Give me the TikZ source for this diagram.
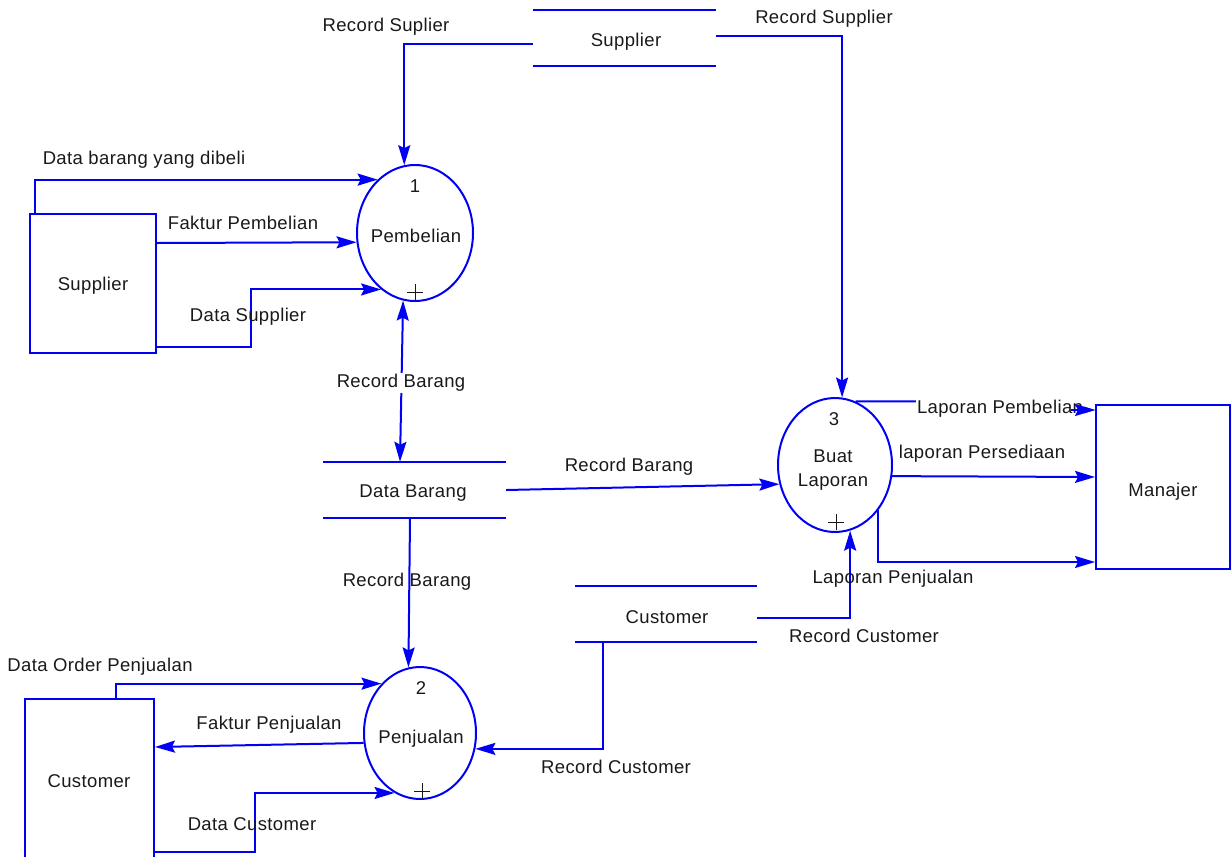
\documentclass[tikz,border=0pt]{standalone}
\usepackage{fontspec}
\setmainfont{Liberation Sans}[LetterSpace=2]
\usetikzlibrary{arrows.meta,shapes.geometric}
\definecolor{dfdblue}{RGB}{0,0,245}
\definecolor{dfdtext}{RGB}{25,25,25}
\begin{document}
\begin{tikzpicture}[x=1pt,y=-1pt,
  >={Stealth[length=20pt,width=12pt,inset=3pt]},
  every node/.style={font=\fontsize{18.5}{22}\selectfont, text=dfdtext, inner sep=1pt},
  flow/.style={draw=dfdblue, line width=2pt, ->},
  bothflow/.style={draw=dfdblue, line width=2pt, <->},
  proc/.style={ellipse, draw=dfdblue, line width=2pt, align=center, inner sep=0pt},
  entity/.style={rectangle, draw=dfdblue, line width=2pt},
  store/.style={rectangle, minimum height=56pt},
  storeline/.style={draw=dfdblue, line width=2pt},
  cross/.style={draw=dfdtext, line width=1pt},
  cover/.style={fill=white, inner sep=1pt}]
\useasboundingbox (0,0) rectangle (1232,857);

% processes
\node[proc, minimum width=116pt, minimum height=136pt] (p1) at (415,233) {};
\node[proc, minimum width=112pt, minimum height=132pt] (p2) at (420,733) {};
\node[proc, minimum width=114pt, minimum height=134pt] (p3) at (835,465) {};
\node (t1) at (416,236) {Pembelian};
\node (t2) at (421,739) {Penjualan};
\node[align=center] (t3) at (833,470) {Buat\\[2pt]Laporan};
\node (n1) at (415,186) {1};
\node (n2) at (421,688) {2};
\node (n3) at (834,419) {3};
\draw[cross] ([yshift=10pt]p1.south) ++(-8,0) -- ++(16,0);
\draw[cross] ([yshift=10pt]p1.south) ++(0,-8) -- ++(0,16);
\draw[cross] ([yshift=9pt,xshift=2pt]p2.south) ++(-8,0) -- ++(16,0);
\draw[cross] ([yshift=9pt,xshift=2pt]p2.south) ++(0,-8) -- ++(0,16);
\draw[cross] ([yshift=11pt,xshift=1pt]p3.south) ++(-8,0) -- ++(16,0);
\draw[cross] ([yshift=11pt,xshift=1pt]p3.south) ++(0,-8) -- ++(0,16);

% external entities
\node[entity, minimum width=126pt, minimum height=139pt] (sup) at (93,283.5) {};
\node[entity, minimum width=134pt, minimum height=164pt] (man) at (1163,487) {};
\node[entity, minimum width=129pt, minimum height=170pt] (cus) at (89.5,784) {};
\node (supt) at (93,286) {Supplier};
\node (mant) at (1163,492) {Manajer};
\node (cust) at (89,781) {Customer};

% data stores
\node[store, minimum width=183pt] (st1) at (624.5,38) {};
\node[store, minimum width=183pt] (st2) at (414.5,490) {};
\node[store, minimum width=182pt] (st3) at (666,614) {};
\node (st1t) at (626,42) {Supplier};
\node (st2t) at (413,493) {Data Barang};
\node (st3t) at (667,617) {Customer};
\foreach \s in {st1,st2,st3}
  \draw[storeline] (\s.north west) -- (\s.north east) (\s.south west) -- (\s.south east);

% flows into process 1
\draw[flow] ([xshift=6pt]sup.north west) |- (p1.125.7);
\draw[flow] ([yshift=40.5pt]sup.east) -- (p1.189.9);
\draw[flow] ([yshift=7pt]sup.south east) -- ++(94,0) |- (p1.239.6);
\draw[flow] ([yshift=-6pt]st1.west) -| (p1.99.4);
\draw[bothflow] (p1.260.6) -- ([xshift=-14.5pt]st2.north);

% flows into process 3
\draw[flow] ([yshift=2pt]st1.east) -| (p3.84.9);
\draw[flow] (st2.east) -- (p3.199.2);
\draw[flow] ([yshift=-4pt]st3.east) -| (p3.283.1);

% flows out of process 3
\draw[flow] (p3.72.9) -- ++(66,0) -- ([xshift=-24pt,yshift=-6pt]man.north west) -- ([yshift=-6pt]man.north west);
\draw[flow] (p3.349.9) -- ([yshift=10pt]man.west);
\draw[flow] (p3.314.3) |- ([yshift=-75pt]man.west);

% flows of process 2
\draw[flow] ([xshift=-4.5pt]st2.south) -- (p2.100.5);
\draw[flow] ([xshift=-63pt]st3.south) |- (p2.344.6);
\draw[flow] ([xshift=92pt]cus.north west) |- (p2.128.7);
\draw[flow] (p2.190.2) -- ([yshift=-49pt]cus.north east);
\draw[flow] ([yshift=-154pt]cus.north east) -- ++(100,0) |- (p2.247);

% flow labels
\node (l1) at (386,27) {Record Suplier};
\node (l2) at (824,19) {Record Supplier};
\node (l3) at (144,160) {Data barang yang dibeli};
\node (l4) at (243,223) {Faktur Pembelian};
\node (l5) at (248,317) {Data Supplier};
\node[cover] (l6) at (401,383) {Record Barang};
\node (l7) at (629,467) {Record Barang};
\node[cover] (l8) at (1000,409) {Laporan Pembelian};
\node (l9) at (982,454) {laporan Persediaan};
\node (l10) at (893,579) {Laporan Penjualan};
\node (l11) at (864,636) {Record Customer};
\node (l12) at (407,582) {Record Barang};
\node (l13) at (100,667) {Data Order Penjualan};
\node (l14) at (269,725) {Faktur Penjualan};
\node (l15) at (616,767) {Record Customer};
\node (l16) at (252,824) {Data Customer};

% arrow tip of the purchase report flow stays on top of its label
\draw[flow] ([xshift=-24pt,yshift=-6pt]man.north west) -- ([yshift=-6pt]man.north west);
\end{tikzpicture}
\end{document}
